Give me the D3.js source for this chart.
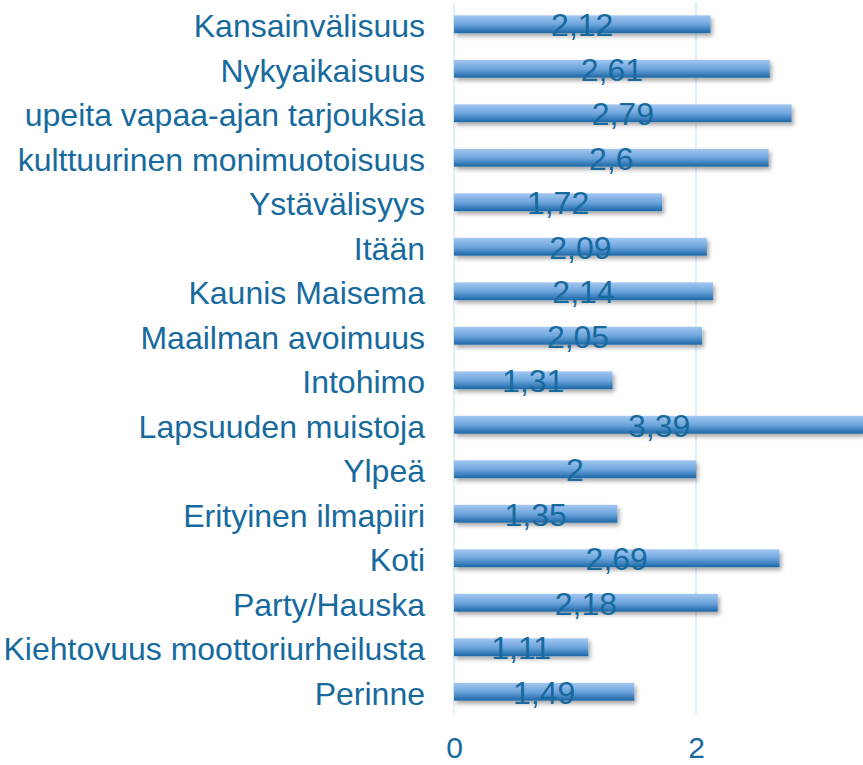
<!DOCTYPE html>
<html>
<head>
<meta charset="utf-8">
<script src="https://cdn.jsdelivr.net/npm/d3@7"></script>
<style>
  body { margin: 0; background: #fff; }
  svg { display: block; font-family: "Liberation Sans", Arial, sans-serif; }
</style>
</head>
<body>
<div id="chart"></div>
<script>
/* Horizontal bar chart - ratings per attribute */

const categories = ["Kansainvälisuus", "Nykyaikaisuus", "upeita vapaa-ajan tarjouksia",
    "kulttuurinen monimuotoisuus", "Ystävälisyys", "Itään", "Kaunis Maisema",
    "Maailman avoimuus", "Intohimo", "Lapsuuden muistoja", "Ylpeä",
    "Erityinen ilmapiiri", "Koti", "Party/Hauska", "Kiehtovuus moottoriurheilusta", "Perinne"];
const values = [2.12, 2.61, 2.79, 2.6, 1.72, 2.09, 2.14, 2.05, 1.31, 3.39, 2, 1.35, 2.69, 2.18, 1.11, 1.49];
const ticks = [0, 2];

const width = 863,
      height = 765,
      margin = ({ top: 2, right: 0, bottom: 51, left: 454 });

const textColor = "#176a9e";

let svg = d3.select("#chart")
    .append("svg")
    .attr("width", width)
    .attr("height", height);

let defs = svg.append("defs");

let grad = defs.append("linearGradient")
    .attr("id", "barGrad")
    .attr("x1", 0).attr("y1", 0).attr("x2", 0).attr("y2", 1);
grad.append("stop").attr("offset", "0%").attr("stop-color", "#a2c6f0");
grad.append("stop").attr("offset", "50%").attr("stop-color", "#6ea6de");
grad.append("stop").attr("offset", "100%").attr("stop-color", "#1b67a6");

defs.append("filter")
    .attr("id", "shadow")
    .attr("x", "-5%").attr("y", "-50%").attr("width", "110%").attr("height", "250%")
    .append("feDropShadow")
    .attr("dx", 2).attr("dy", 3)
    .attr("stdDeviation", 2)
    .attr("flood-color", "#000")
    .attr("flood-opacity", 0.35);

let x = d3.scaleLinear()
    .domain([0, 4])
    .range([margin.left, margin.left + 4 * 121]);

let y = d3.scaleBand()
    .domain(categories)
    .range([margin.top, height - margin.bottom])
    .paddingInner(0.6)
    .paddingOuter(0.3);

// gridlines
svg.append("g")
    .selectAll("line")
    .data(ticks)
    .join("line")
    .attr("x1", d => x(d)).attr("x2", d => x(d))
    .attr("y1", margin.top).attr("y2", height - margin.bottom)
    .attr("stroke", "#d6ebf7")
    .attr("stroke-width", 1.5);

// x axis labels
let xAxis = svg.append("g")
    .attr("transform", `translate(0,${height - margin.bottom})`)
    .call(d3.axisBottom(x).tickValues(ticks).tickSize(0).tickPadding(23).tickFormat(d3.format("d")));
xAxis.select(".domain").remove();
xAxis.selectAll("text")
    .attr("fill", textColor)
    .style("font-size", "30px")
    .style("font-family", "Liberation Sans, Arial, sans-serif");

// y axis labels
let yAxis = svg.append("g")
    .attr("transform", `translate(${margin.left - 29},0)`)
    .call(d3.axisLeft(y).tickSize(0).tickPadding(0));
yAxis.select(".domain").remove();
yAxis.selectAll("text")
    .attr("fill", textColor)
    .attr("dy", "0.4em")
    .style("font-size", "32px")
    .style("font-family", "Liberation Sans, Arial, sans-serif");

let bar = svg.selectAll(".bar")
    .data(categories.map((c, i) => ({ name: c, value: values[i] })))
    .join("g")
    .attr("class", "bar");

bar.append("rect")
    .attr("x", x(0))
    .attr("y", d => y(d.name))
    .attr("width", d => x(d.value) - x(0))
    .attr("height", y.bandwidth())
    .attr("fill", "url(#barGrad)")
    .attr("filter", "url(#shadow)");

bar.append("text")
    .text(d => String(d.value).replace(".", ","))
    .attr("x", d => (x(0) + x(d.value)) / 2)
    .attr("y", d => y(d.name) + y.bandwidth() / 2)
    .attr("dy", "0.38em")
    .attr("text-anchor", "middle")
    .attr("fill", textColor)
    .style("font-size", "32px");
</script>
</body>
</html>
